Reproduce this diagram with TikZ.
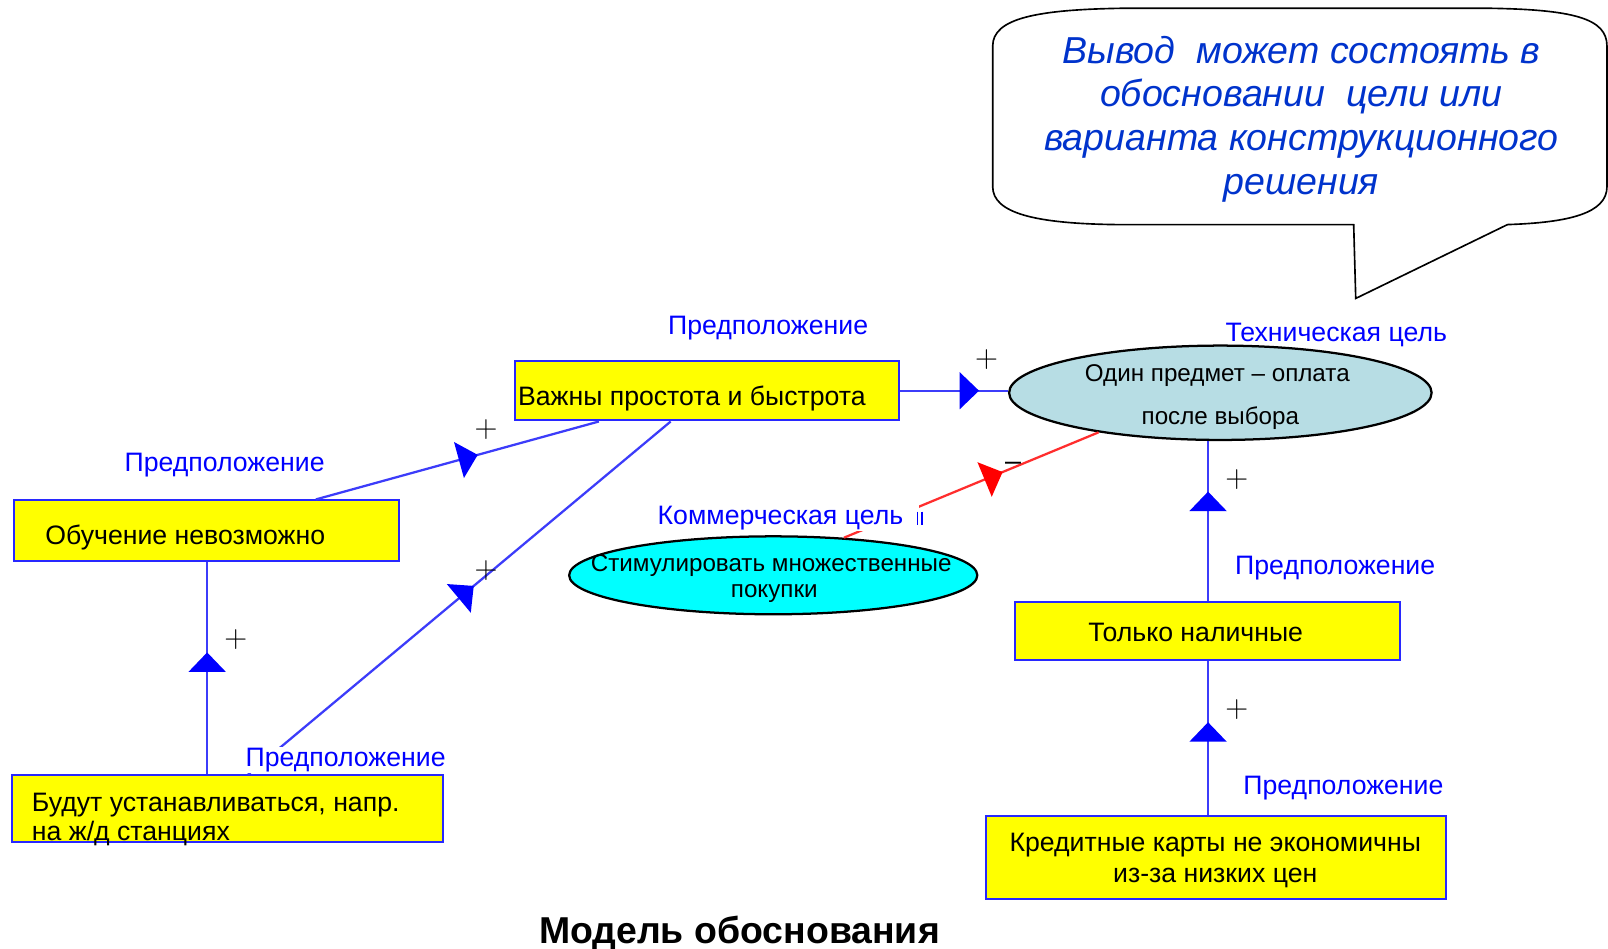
\documentclass[tikz,border=0pt]{standalone}
\usepackage{fontspec}
\setmainfont{Liberation Sans}
\usetikzlibrary{arrows.meta,decorations.markings,shapes.geometric,calc}

\definecolor{boxyellow}{RGB}{255,255,0}
\definecolor{boxedge}{RGB}{40,40,255}
\definecolor{linkblue}{RGB}{60,60,250}
\definecolor{tipblue}{RGB}{0,0,255}
\definecolor{labelblue}{RGB}{0,0,255}
\definecolor{goalgray}{RGB}{183,221,228}
\definecolor{goalcyan}{RGB}{0,255,255}
\definecolor{linkred}{RGB}{255,45,45}
\definecolor{tipred}{RGB}{255,0,0}
\definecolor{notetext}{RGB}{0,51,204}

\tikzset{
  claim/.style={draw=boxedge, fill=boxyellow, line width=2pt, anchor=north west, inner sep=0pt},
  goal/.style={ellipse, draw=black, line width=2.2pt, inner sep=0pt},
  txt/.style={inner sep=0pt, font=\fontsize{26}{30}\selectfont},
  goaltxt/.style={inner sep=0pt, font=\fontsize{23.6}{27}\selectfont},
  tag/.style={text=labelblue, inner xsep=2pt, inner ysep=1pt, anchor=base, font=\fontsize{26}{30}\selectfont},
  sign/.style={inner sep=0pt, font=\fontfamily{lmr}\fontsize{31}{33}\selectfont},
  notetxt/.style={inner sep=0pt, anchor=base, text=notetext, font=\fontsize{36.6}{42}\selectfont\itshape},
  link/.style={draw=linkblue, line width=2.2pt},
  redlink/.style={draw=linkred, line width=2.2pt},
  supportat/.style={postaction={decorate}, decoration={markings,
      mark=at position #1 with {\arrow{Triangle[width=36pt,length=19pt,color=tipblue]}}}},
  opposeat/.style={postaction={decorate}, decoration={markings,
      mark=at position #1 with {\arrow{Triangle[width=36pt,length=19pt,color=tipred]}}}},
}

\begin{document}
\begin{tikzpicture}[x=1pt,y=-1pt]
\fill[white] (0,0) rectangle (1568,925);
\useasboundingbox (0,0) rectangle (1568,925);

% speech bubble with the conclusion note
\draw[line width=1.6pt, fill=white]
  (1200,8) -- (1447,8) .. controls (1535,9) and (1567,18) .. (1567,45)
  -- (1567,182) .. controls (1567,208) and (1530,217) .. (1470,219)
  -- (1322,291) -- (1320,219) -- (1088,219)
  .. controls (1010,218) and (968,208) .. (968,182)
  -- (968,45) .. controls (968,18) and (1010,9) .. (1100,8) -- cycle;
\node[notetxt] (note1) at (1269,62) {Вывод\ \ может состоять в};
\node[notetxt] (note2) at (1269,104) {обосновании\ \ цели или};
\node[notetxt] (note3) at (1269,147) {варианта конструкционного};
\node[notetxt] (note4) at (1269,190) {решения};

% claims (yellow boxes)
\node[claim, minimum width=375pt, minimum height=58pt] (speed) at (501,351) {};
\node[claim, minimum width=375pt, minimum height=59pt] (train) at (13,487) {};
\node[claim, minimum width=420pt, minimum height=65pt] (station) at (11,755) {};
\node[claim, minimum width=375pt, minimum height=57pt] (cash) at (989,586) {};
\node[claim, minimum width=449pt, minimum height=81pt] (cards) at (960,795) {};

% goals (ellipses)
\node[goal, fill=goalgray, minimum width=412pt, minimum height=92pt] (single) at (1190,383) {};
\node[goal, fill=goalcyan, minimum width=398pt, minimum height=76pt] (multi) at (754,561) {};

% texts inside the shapes
\node[txt, anchor=base west] (speed-t) at (505,395) {Важны простота и быстрота};
\node[txt, anchor=base west] (train-t) at (44,531) {Обучение невозможно};
\node[txt, anchor=base west] (station-t1) at (31,791) {Будут устанавливаться, напр.};
\node[txt, anchor=base west] (station-t2) at (31,820) {на ж/д станциях};
\node[txt, anchor=base] (cash-t) at (1166,626) {Только наличные};
\node[txt, anchor=base] (cards-t1) at (1185,830) {Кредитные карты не экономичны};
\node[txt, anchor=base] (cards-t2) at (1185,861) {из-за низких цен};
\node[goaltxt, anchor=base] (single-t1) at (1187,372) {Один предмет – оплата};
\node[goaltxt, anchor=base] (single-t2) at (1190,414) {после выбора};
\node[goaltxt, anchor=base] (multi-t1) at (752,557) {Стимулировать множественные};
\node[goaltxt, anchor=base] (multi-t2) at (755,583) {покупки};

% support and opposition links
\draw[link, supportat=0.572] ([xshift=106.5pt]train.north) -- ([xshift=-105.5pt]speed.south);
\draw[link, supportat=0.534] ([xshift=20pt]station.north) -- ([xshift=-35.5pt]speed.south);
\draw[link, supportat=0.574] ([xshift=-20pt]station.north) -- ([xshift=-20pt]station.north |- train.south);
\draw[link, supportat=0.731] (speed.east) -- (speed.east -| single.west);
\draw[link, supportat=0.684] ([xshift=0.5pt]cash.north) -- ([xshift=0.5pt]cash.north |- single.south);
\draw[link, supportat=0.605] ([xshift=-7.5pt]cards.north) -- ([xshift=-7.5pt]cards.north |- cash.south);
\draw[redlink, opposeat=0.623] (multi.28) -- (single.198);

% role labels (the ones lying over a link get a white ground)
\node[tag] (tag-speed) at (749,326) {Предположение};
\node[tag] (tag-train) at (219,460) {Предположение};
\node[tag, fill=white] (tag-station) at (337,747) {Предположение};
\node[tag] (tag-single) at (1303,333) {Техническая цель};
\node[tag, fill=white, inner xsep=15pt] (tag-multi) at (761,511) {Коммерческая цель};
\node[tag] (tag-cash) at (1302,560) {Предположение};
\node[tag] (tag-cards) at (1310,775) {Предположение};
\draw[labelblue, line width=1.2pt] (895,499) -- (895,512) (899,499) -- (899,512);

% link signs
\node[sign] (s1) at (474,419) {+};
\node[sign] (s2) at (474,556) {+};
\node[sign] (s3) at (230,624) {+};
\node[sign] (s4) at (962,351) {+};
\node[sign] (s5) at (1206,468) {+};
\node[sign] (s6) at (1206,692) {+};
\node[inner sep=0pt, font=\fontsize{28}{30}\selectfont] (s7) at (988,455) {–};

% caption
\node[inner sep=0pt, anchor=base, font=\fontsize{36.5}{40}\selectfont\bfseries] (caption) at (721,920) {Модель обоснования};
\end{tikzpicture}
\end{document}
